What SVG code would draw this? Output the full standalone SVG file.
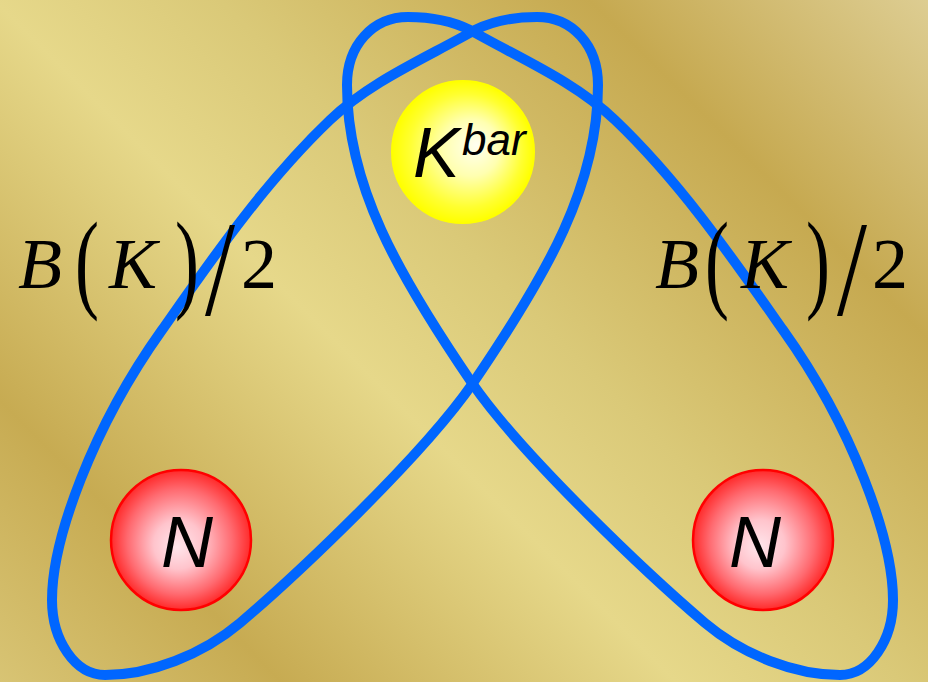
<svg xmlns="http://www.w3.org/2000/svg" xmlns:xlink="http://www.w3.org/1999/xlink" width="928" height="682" viewBox="0 0 928 682">
  <defs>
    <linearGradient id="bg" gradientUnits="userSpaceOnUse" x1="-341" y1="341" x2="464" y2="-464">
      <stop offset="0" stop-color="#d8c474"/>
      <stop offset="0.175" stop-color="#c7ab52"/>
      <stop offset="0.42" stop-color="#e6d88a"/>
      <stop offset="0.56" stop-color="#dac978"/>
      <stop offset="0.79" stop-color="#c6a950"/>
      <stop offset="1" stop-color="#ddcd92"/>
    </linearGradient>
    <radialGradient id="redball" cx="0.5" cy="0.5" r="0.5" fx="0.47" fy="0.55">
      <stop offset="0" stop-color="#ffe6ec"/>
      <stop offset="0.35" stop-color="#ffc4cc"/>
      <stop offset="0.75" stop-color="#ff6a70"/>
      <stop offset="1" stop-color="#ff2a2a"/>
    </radialGradient>
    <radialGradient id="yellowball" cx="0.5" cy="0.5" r="0.5" fx="0.6" fy="0.45">
      <stop offset="0" stop-color="#fffff2"/>
      <stop offset="0.4" stop-color="#ffffb0"/>
      <stop offset="0.8" stop-color="#ffff30"/>
      <stop offset="1" stop-color="#ffff00"/>
    </radialGradient>
    <style>
      .loop { fill: none; stroke: #0066ff; stroke-width: 10; }
      .red { fill: url(#redball); stroke: #ff0000; stroke-width: 2.5; }
      .yellow { fill: url(#yellowball); stroke: #ffff00; stroke-width: 2; }
      .sans { font-family: "Liberation Sans", Arial, sans-serif; font-style: italic; fill: #000; }
      .math { font-family: "Liberation Serif", "Times New Roman", serif; font-size: 72px; fill: #000; }
      .it { font-style: italic; }
    </style>
  </defs>

  <rect x="0" y="0" width="928" height="682" fill="url(#bg)"/>

  <g id="connectors">
    <path id="loop-left" class="loop" d="M 537,17 C 572,17 598,45 598,85 C 598,185 548,273 473,383 C 422,457 293,578 240,623 C 202,655 150,675 105,675 C 75,675 52,640 52,600 C 52,540 92,428 162,330 C 214,256 265,182 330,120 C 371,81 425,58.5 475,30 C 495,20 515,17 537,17 Z"/>
    <path id="loop-right" class="loop" transform="translate(945,0) scale(-1,1)" d="M 537,17 C 572,17 598,45 598,85 C 598,185 548,273 473,383 C 422,457 293,578 240,623 C 202,655 150,675 105,675 C 75,675 52,640 52,600 C 52,540 92,428 162,330 C 214,256 265,182 330,120 C 371,81 425,58.5 475,30 C 495,20 515,17 537,17 Z"/>
  </g>

  <g id="kbar">
    <circle class="yellow" cx="463" cy="152" r="71"/>
    <text class="sans" x="413" y="177" font-size="70">K</text>
    <text class="sans" x="462" y="155" font-size="44">bar</text>
  </g>

  <g id="nucleon-left">
    <circle class="red" cx="181" cy="540" r="70"/>
    <text class="sans" x="161" y="567" font-size="72">N</text>
  </g>

  <g id="nucleon-right">
    <circle class="red" cx="763" cy="540" r="70"/>
    <text class="sans" x="729" y="567" font-size="72">N</text>
  </g>

  <g id="label-left">
    <text class="math it" x="18" y="288">B</text>
    <text class="math" transform="translate(75,297.5) scale(1,1.53)">(</text>
    <text class="math it" x="109" y="288">K</text>
    <text class="math" transform="translate(175,297.5) scale(1,1.53)">)</text>
    <text class="math" transform="translate(205,315) scale(1.5,1.89)">/</text>
    <text class="math" x="241" y="288">2</text>
  </g>

  <g id="label-right">
    <text class="math it" x="655" y="288">B</text>
    <text class="math" transform="translate(705,297.5) scale(1,1.53)">(</text>
    <text class="math it" x="741" y="288">K</text>
    <text class="math" transform="translate(806,297.5) scale(1,1.53)">)</text>
    <text class="math" transform="translate(837,315) scale(1.5,1.89)">/</text>
    <text class="math" x="872" y="288">2</text>
  </g>
</svg>
